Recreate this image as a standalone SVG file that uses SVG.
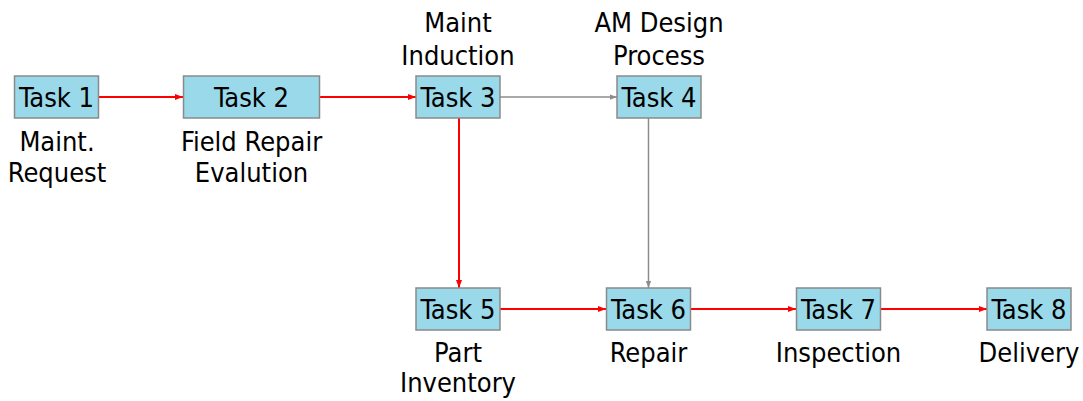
<svg xmlns="http://www.w3.org/2000/svg" width="1083" height="401" viewBox="0 0 1083 401">
  <style>
    .box { fill: #99d9e9; stroke: #8a8a8a; stroke-width: 1.5; }
    .t { font-family: "DejaVu Sans Condensed", "DejaVu Sans", sans-serif; font-size: 27px; fill: #000; text-anchor: middle; }
    .red { stroke: #ff0000; stroke-width: 2; fill: none; }
    .gray { stroke: #8c8c8c; stroke-width: 1.5; fill: none; }
  </style>
  <defs>
    <marker id="ahRed" viewBox="0 0 8 8" refX="8" refY="4" markerWidth="8" markerHeight="8" markerUnits="userSpaceOnUse" orient="auto">
      <path d="M0,1 L8,4 L0,7 Z" fill="#ff0000"/>
    </marker>
    <marker id="ahGray" viewBox="0 0 8 8" refX="8" refY="4" markerWidth="7" markerHeight="7" markerUnits="userSpaceOnUse" orient="auto">
      <path d="M0,1 L8,4 L0,7 Z" fill="#8c8c8c"/>
    </marker>
  </defs>

  <g id="connectors">
    <line class="red" x1="99" y1="97" x2="183" y2="97" marker-end="url(#ahRed)"/>
    <line class="red" x1="320" y1="97" x2="416" y2="97" marker-end="url(#ahRed)"/>
    <line class="gray" x1="500" y1="97" x2="617" y2="97" marker-end="url(#ahGray)"/>
    <line class="red" x1="459" y1="118" x2="459" y2="288" marker-end="url(#ahRed)"/>
    <line class="gray" x1="648.5" y1="118" x2="648.5" y2="288" marker-end="url(#ahGray)"/>
    <line class="red" x1="500" y1="309" x2="606" y2="309" marker-end="url(#ahRed)"/>
    <line class="red" x1="691" y1="309" x2="796" y2="309" marker-end="url(#ahRed)"/>
    <line class="red" x1="881" y1="309" x2="987" y2="309" marker-end="url(#ahRed)"/>
  </g>

  <g id="task1">
    <rect class="box" x="14.5" y="76" width="84" height="42"/>
    <text class="t" x="56.5" y="107">Task 1</text>
    <text class="t" x="57" y="151">Maint.</text>
    <text class="t" x="57" y="182">Request</text>
  </g>
  <g id="task2">
    <rect class="box" x="183.5" y="76" width="136" height="42"/>
    <text class="t" x="251.5" y="107">Task 2</text>
    <text class="t" x="251.5" y="151">Field Repair</text>
    <text class="t" x="251.5" y="182">Evalution</text>
  </g>
  <g id="task3">
    <rect class="box" x="416" y="76" width="84" height="42"/>
    <text class="t" x="458" y="107">Task 3</text>
    <text class="t" x="458" y="32">Maint</text>
    <text class="t" x="458" y="65">Induction</text>
  </g>
  <g id="task4">
    <rect class="box" x="617" y="76" width="84" height="42"/>
    <text class="t" x="659" y="107">Task 4</text>
    <text class="t" x="659" y="32">AM Design</text>
    <text class="t" x="659" y="65">Process</text>
  </g>
  <g id="task5">
    <rect class="box" x="416" y="288" width="84" height="42"/>
    <text class="t" x="458" y="318.5">Task 5</text>
    <text class="t" x="458" y="362">Part</text>
    <text class="t" x="458" y="392">Inventory</text>
  </g>
  <g id="task6">
    <rect class="box" x="606.5" y="288" width="84" height="42"/>
    <text class="t" x="648.5" y="318.5">Task 6</text>
    <text class="t" x="648.5" y="362">Repair</text>
  </g>
  <g id="task7">
    <rect class="box" x="796.5" y="288" width="84" height="42"/>
    <text class="t" x="838.5" y="318.5">Task 7</text>
    <text class="t" x="838.5" y="362">Inspection</text>
  </g>
  <g id="task8">
    <rect class="box" x="987" y="288" width="84" height="42"/>
    <text class="t" x="1029" y="318.5">Task 8</text>
    <text class="t" x="1029" y="362">Delivery</text>
  </g>
</svg>
